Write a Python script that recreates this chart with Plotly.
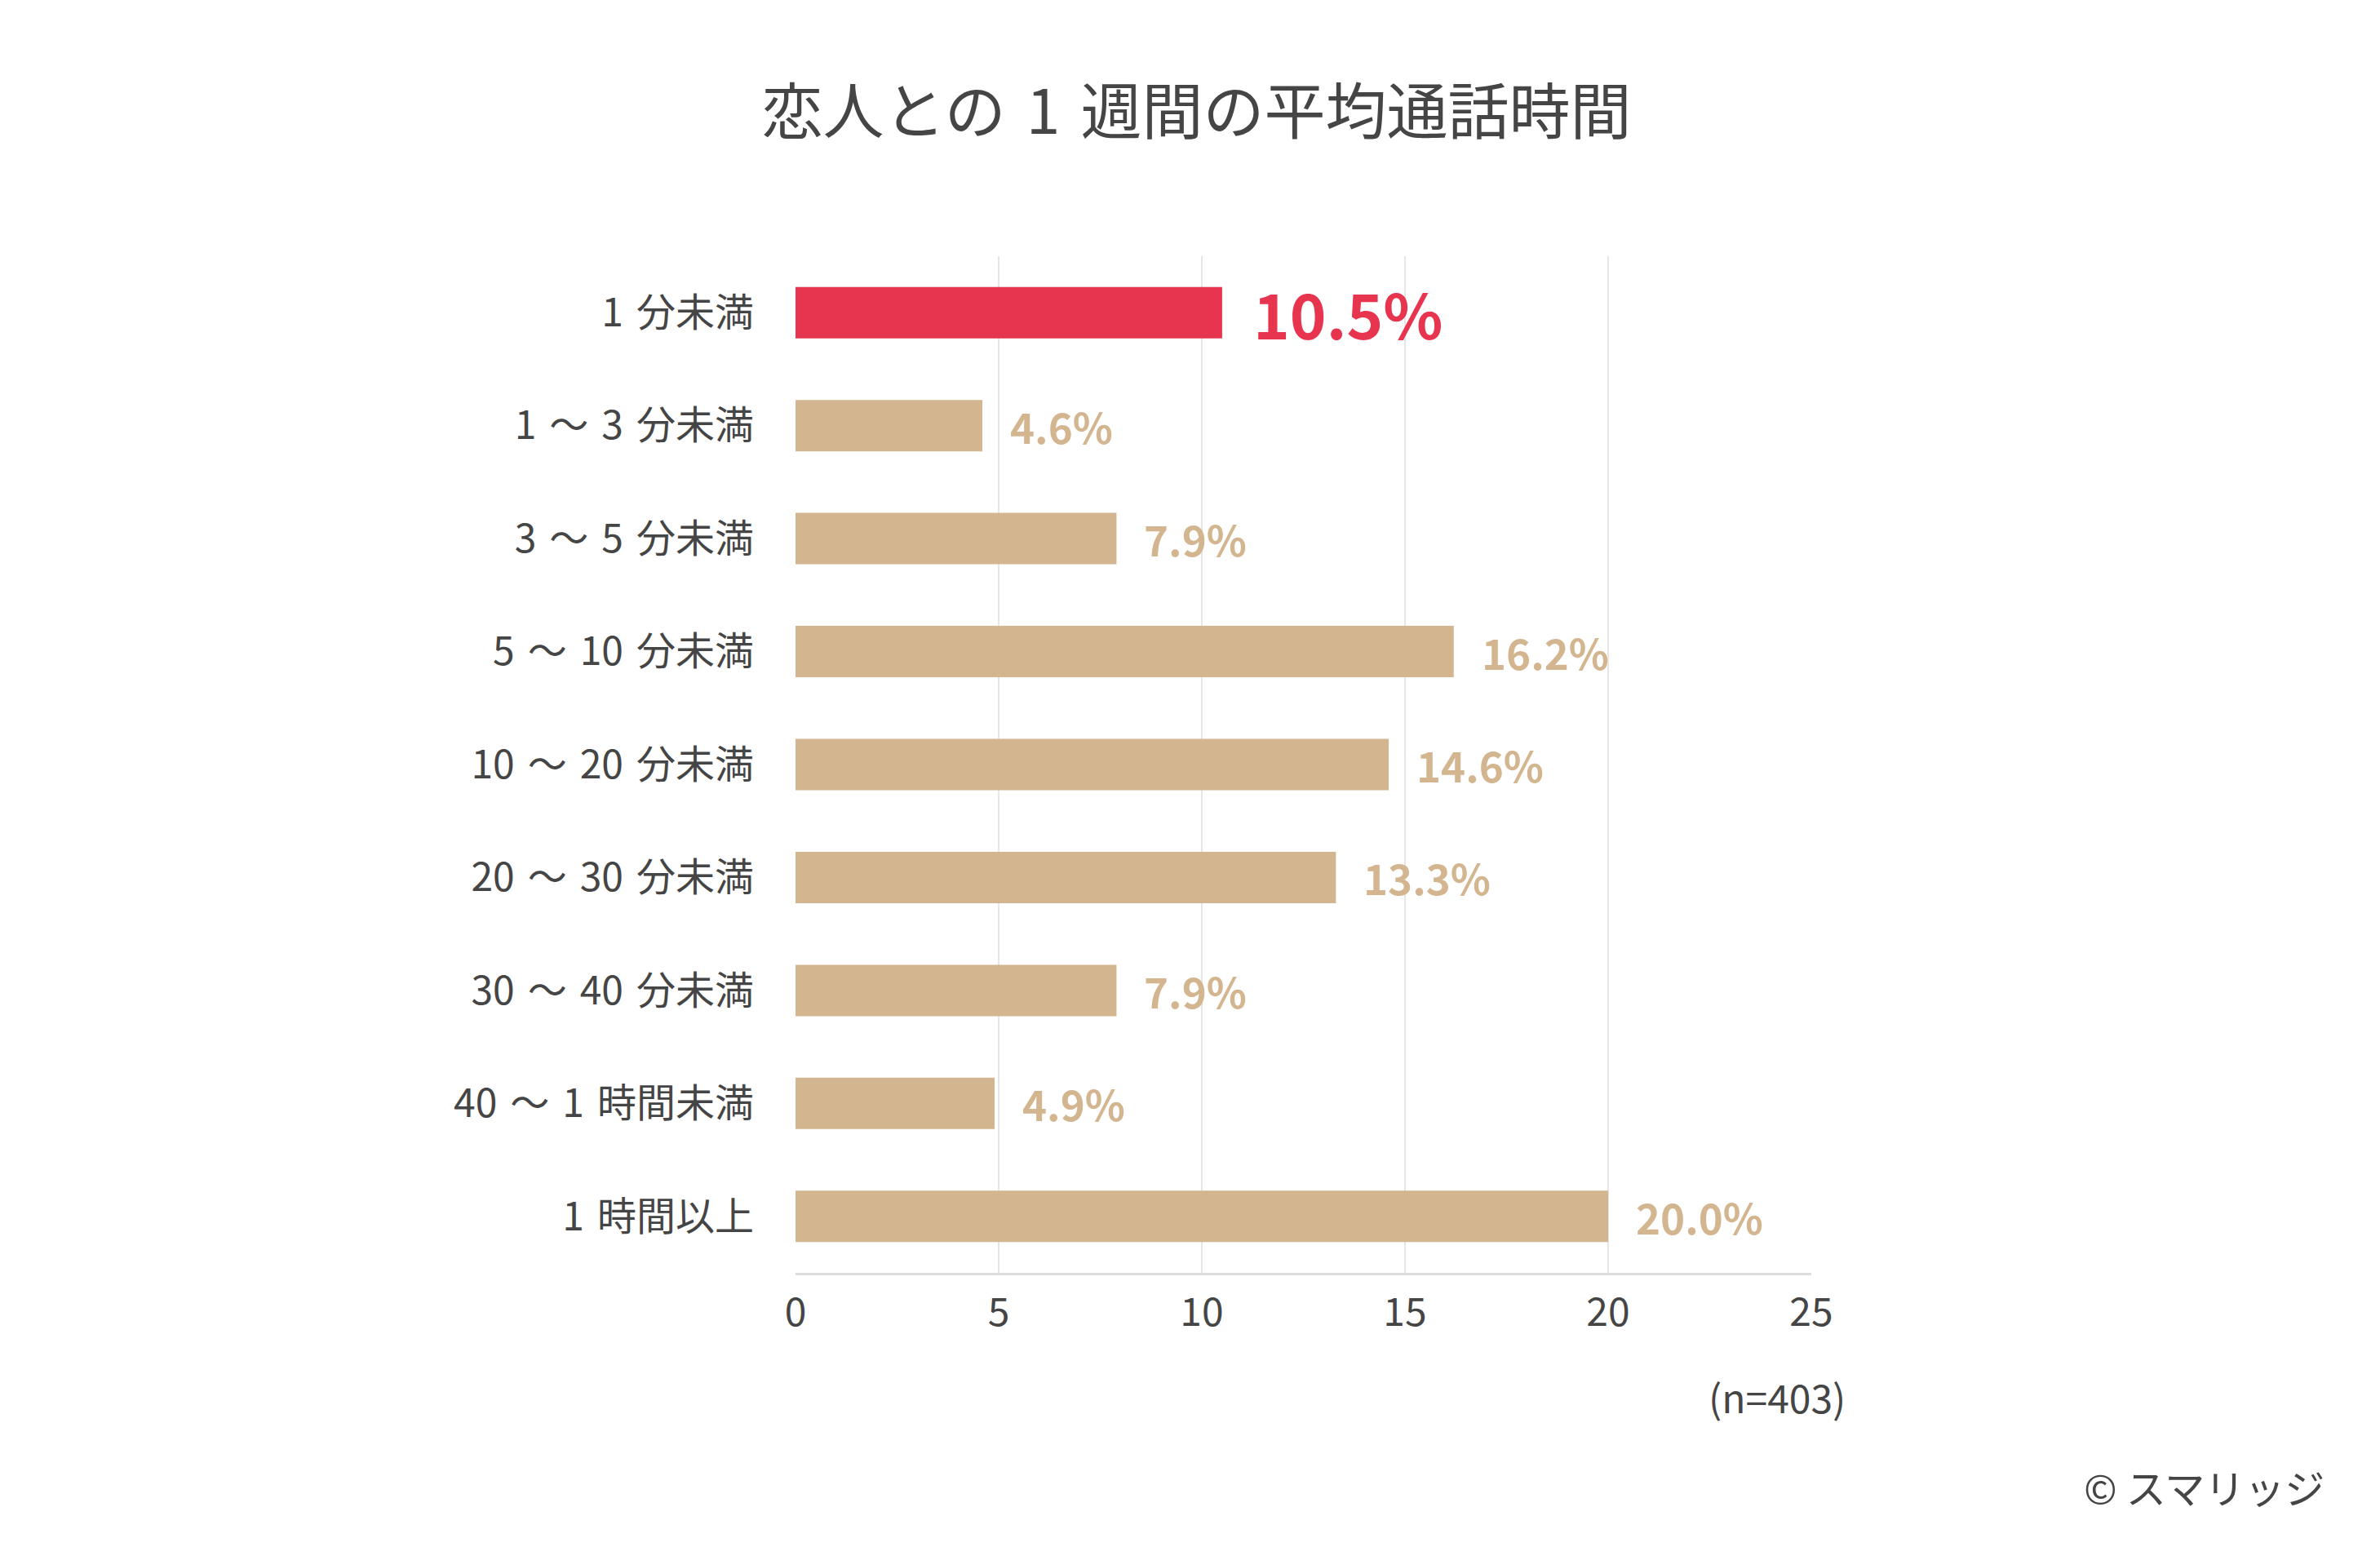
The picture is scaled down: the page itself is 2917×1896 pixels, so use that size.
import plotly.graph_objects as go

categories = ["1 分未満", "1 〜 3 分未満", "3 〜 5 分未満", "5 〜 10 分未満", "10 〜 20 分未満",
              "20 〜 30 分未満", "30 〜 40 分未満", "40 〜 1 時間未満", "1 時間以上"]
values = [10.5, 4.6, 7.9, 16.2, 14.6, 13.3, 7.9, 4.9, 20.0]
highlight = [True, False, False, False, False, False, False, False, False]
x_ticks = [0, 5, 10, 15, 20, 25]

RED = "#E8354F"
TAN = "#D3B68F"
DARK = "#454545"
FONT = "Noto Sans CJK JP"

W, H = 2917, 1896
ML, MR, MT, MB = 967, 705, 306, 344
PW, PH = W - ML - MR, H - MT - MB

colors = [RED if h else TAN for h in highlight]
tick_text = [c.replace(" ", "\u2004") for c in categories]

fig = go.Figure()
fig.add_trace(go.Bar(
    x=values, y=categories, orientation="h",
    marker=dict(color=colors, line=dict(width=0)),
    hoverinfo="skip",
))

for c, v, h in zip(categories, values, highlight):
    fig.add_annotation(
        x=v, y=c, xref="x", yref="y", text=f"<b>{v:.1f}%</b>",
        showarrow=False, xanchor="left", yanchor="middle", xshift=36 if h else 32,
        font=dict(family=FONT, size=76 if h else 51, color=RED if h else TAN),
    )

fig.add_annotation(xref="paper", yref="paper",
                   x=(2256 - ML) / PW, y=(H - MB - 1703) / PH,
                   text="(n=403)", showarrow=False, xanchor="right", yanchor="middle",
                   font=dict(family=FONT, size=48, color=DARK))
fig.add_annotation(xref="paper", yref="paper",
                   x=(2843 - ML) / PW, y=(H - MB - 1813) / PH,
                   text="© スマリッジ", showarrow=False, xanchor="right", yanchor="middle",
                   font=dict(family=FONT, size=49, color=DARK))

fig.update_layout(
    width=W, height=H,
    paper_bgcolor="white", plot_bgcolor="white",
    margin=dict(l=ML, r=MR, t=MT, b=MB),
    bargap=0.545,
    showlegend=False,
    title=dict(text="恋人との\u20041\u2004週間の平均通話時間", x=0.5, xanchor="center", y=1 - 130 / H, yanchor="middle",
               font=dict(family=FONT, size=75, color=DARK)),
    font=dict(family=FONT, color=DARK),
)

fig.update_xaxes(range=[0, 25], tickvals=x_ticks, showgrid=True, gridcolor="#E6E6E6", gridwidth=2,
                 zeroline=False, showline=True, linecolor="#DDDDDD", linewidth=3,
                 tickfont=dict(family=FONT, size=48, color=DARK), ticks="", ticklabelstandoff=4)
fig.update_yaxes(categoryorder="array", categoryarray=categories, range=[8.5, -0.5],
                 tickvals=categories, ticktext=tick_text,
                 showgrid=False, zeroline=False, showline=False, ticks="",
                 tickfont=dict(family=FONT, size=48, color=DARK), ticklabelstandoff=50)

fig.write_html("out.html")
